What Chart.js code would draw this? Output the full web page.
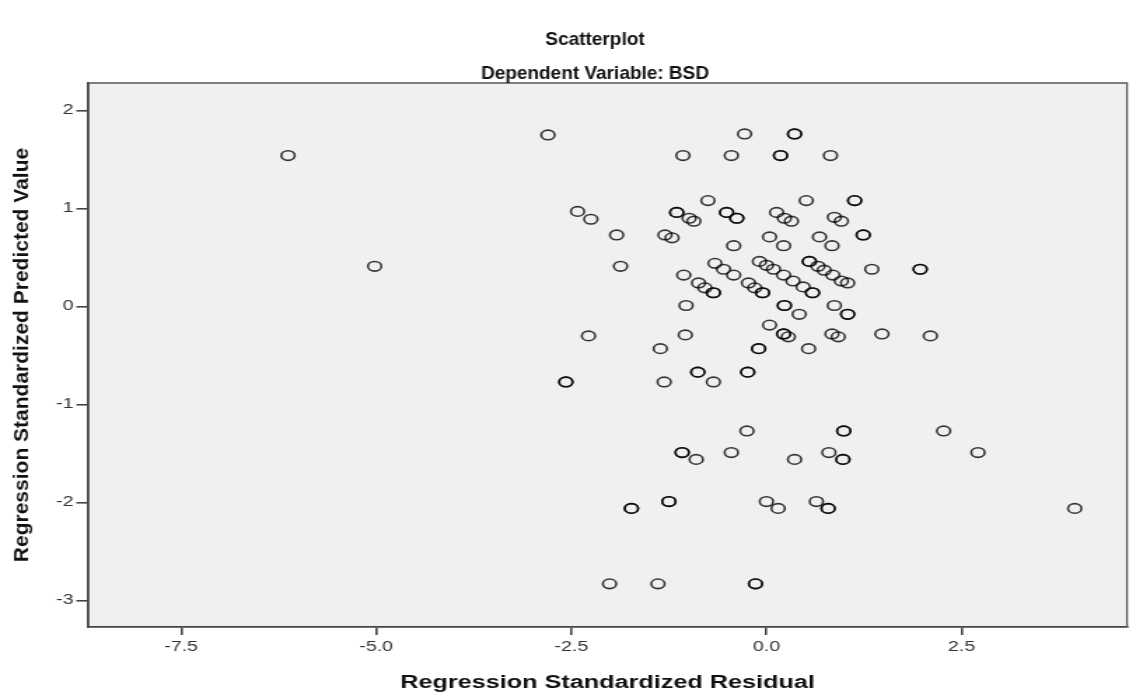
<!DOCTYPE html>
<html>
<head>
<meta charset="utf-8">
<script src="https://cdn.jsdelivr.net/npm/chart.js@4.4.1/dist/chart.umd.min.js"></script>
<style>
  html, body { margin: 0; padding: 0; background: #fff; overflow: hidden; }
  #wrap { width: 811px; height: 696px; transform: scaleX(1.4007); transform-origin: 0 0; }
</style>
</head>
<body>
<div id="wrap"><canvas id="scatter" width="811" height="696"></canvas></div>
<script>
// regression standardized residual (x) / predicted value (y)
const residual = [
  -6.13, -2.80, -0.28, 0.36, 0.36, -1.07, -0.45, 0.18, 0.18, 0.82,
  -0.75, 0.51, 1.13, 1.13,
  -2.42, -2.25, -1.15, -1.15, -0.99, -0.93, -0.51, -0.51, -0.38, -0.38,
  0.13, 0.23, 0.32, 0.87, 0.96,
  -1.92, -1.30, -1.21, -0.42, 0.04, 0.22, 0.68, 0.84, 1.24, 1.24,
  -5.02, -1.87, -0.66, -0.55, -0.42, -1.06, -0.87, -0.79, -0.68, -0.68,
  -0.23, -0.15, -0.05, -0.05,
  -0.09, 0.00, 0.09, 0.22, 0.34, 0.47, 0.59, 0.59,
  0.55, 0.55, 0.66, 0.74, 0.85, 0.96, 1.04, 1.35, 1.97, 1.97,
  -1.03, 0.23, 0.23, 0.42, 0.87, 1.04, 1.04, 0.04,
  -2.28, -1.04, 0.22, 0.22, 0.28, 0.84, 0.92, 1.48, 2.10,
  -1.36, -0.10, -0.10, 0.54,
  -2.57, -2.57, -1.31, -0.88, -0.88, -0.68, -0.24, -0.24,
  -0.25, 0.99, 0.99, 2.27,
  -1.08, -1.08, -0.90, -0.45, 0.36, 0.80, 0.98, 0.98, 2.71,
  -1.25, -1.25, -1.73, -1.73, 0.00, 0.15, 0.64, 0.79, 0.79, 3.95,
  -2.01, -1.39, -0.14, -0.14
]
const predicted = [
  1.54, 1.75, 1.76, 1.76, 1.76, 1.54, 1.54, 1.54, 1.54, 1.54,
  1.08, 1.08, 1.08, 1.08,
  0.97, 0.89, 0.96, 0.96, 0.90, 0.87, 0.96, 0.96, 0.90, 0.90,
  0.96, 0.90, 0.87, 0.91, 0.87,
  0.73, 0.73, 0.70, 0.62, 0.71, 0.62, 0.71, 0.62, 0.73, 0.73,
  0.41, 0.41, 0.44, 0.38, 0.32, 0.32, 0.24, 0.19, 0.14, 0.14,
  0.24, 0.19, 0.14, 0.14,
  0.46, 0.42, 0.38, 0.32, 0.26, 0.20, 0.14, 0.14,
  0.46, 0.46, 0.41, 0.37, 0.32, 0.26, 0.24, 0.38, 0.38, 0.38,
  0.01, 0.01, 0.01, -0.08, 0.01, -0.08, -0.08, -0.19,
  -0.30, -0.29, -0.28, -0.28, -0.31, -0.28, -0.31, -0.28, -0.30,
  -0.43, -0.43, -0.43, -0.43,
  -0.77, -0.77, -0.77, -0.67, -0.67, -0.77, -0.67, -0.67,
  -1.27, -1.27, -1.27, -1.27,
  -1.49, -1.49, -1.56, -1.49, -1.56, -1.49, -1.56, -1.56, -1.49,
  -1.99, -1.99, -2.06, -2.06, -1.99, -2.06, -1.99, -2.06, -2.06, -2.06,
  -2.83, -2.83, -2.83, -2.83
]
const xTicks = [-7.5, -5.0, -2.5, 0.0, 2.5]
const yTicks = [-3, -2, -1, 0, 1, 2]
const titleLines = ['Scatterplot', 'Dependent Variable: BSD']
const yTitle = 'Regression Standardized Predicted Value'
const xTitle = 'Regression Standardized Residual'

const stretch = 1.4007
const points = residual.map((x, i) => ({ x, y: predicted[i] }))

// draws text at (x, y) in page pixels without the horizontal stretch
function plainText(ctx, text, x, y, rotate) {
  ctx.save()
  ctx.translate(x / stretch, y)
  ctx.scale(1 / stretch, 1)
  if (rotate) ctx.rotate(-Math.PI / 2)
  ctx.fillText(text, 0, 0)
  ctx.restore()
}

const plotFrame = {
  id: 'plotFrame',
  beforeDraw(chart) {
    const { ctx, chartArea: a } = chart
    ctx.save()
    ctx.fillStyle = '#f0f0f0'
    ctx.fillRect(a.left, a.top, a.right - a.left, a.bottom - a.top)
    ctx.restore()
  },
  afterDraw(chart) {
    const { ctx, chartArea: a } = chart
    ctx.save()
    ctx.strokeStyle = '#555'
    ctx.lineWidth = 1.3
    ctx.beginPath()
    ctx.moveTo(a.left, a.top)
    ctx.lineTo(a.right, a.top)
    ctx.lineTo(a.right, a.bottom)
    ctx.stroke()

    ctx.fillStyle = '#111'
    ctx.textAlign = 'center'
    ctx.textBaseline = 'middle'
    ctx.font = 'bold 19px "Liberation Sans", Arial, sans-serif'
    plainText(ctx, titleLines[0], 595, 40)
    plainText(ctx, titleLines[1], 595, 74)
    ctx.font = 'bold 21px "Liberation Sans", Arial, sans-serif'
    plainText(ctx, yTitle, 22, (a.top + a.bottom) / 2, true)
    ctx.restore()
  }
}

new Chart(document.getElementById('scatter'), {
  type: 'scatter',
  data: {
    datasets: [{
      data: points,
      pointStyle: 'circle',
      pointRadius: 4.8,
      pointHoverRadius: 4.8,
      pointBorderWidth: 1.6,
      pointBorderColor: 'rgba(0,0,0,0.78)',
      pointBackgroundColor: 'rgba(0,0,0,0)'
    }]
  },
  plugins: [plotFrame],
  options: {
    responsive: false,
    animation: false,
    events: [],
    layout: { padding: { top: 83, right: 2, left: 0, bottom: 0 } },
    plugins: {
      legend: { display: false },
      tooltip: { enabled: false },
      title: { display: false }
    },
    scales: {
      x: {
        type: 'linear',
        min: -8.69,
        max: 4.62,
        afterBuildTicks: (axis) => { axis.ticks = xTicks.map(v => ({ value: v })) },
        afterFit: (axis) => { axis.height = 69 },
        ticks: {
          color: '#333',
          font: { family: '"Liberation Sans", Arial, sans-serif', size: 14 },
          padding: 4,
          maxRotation: 0,
          callback: (v) => Number(v).toFixed(1)
        },
        grid: { drawOnChartArea: false, drawTicks: true, tickLength: 8, color: '#444', lineWidth: 1.6 },
        border: { display: true, color: '#444', width: 1.8 },
        title: {
          display: true,
          text: xTitle,
          color: '#111',
          font: { family: '"Liberation Sans", Arial, sans-serif', size: 18, weight: 'bold' },
          padding: { top: 0, bottom: 2 }
        }
      },
      y: {
        type: 'linear',
        min: -3.27,
        max: 2.28,
        afterBuildTicks: (axis) => { axis.ticks = yTicks.map(v => ({ value: v })) },
        afterFit: (axis) => { axis.width = 63 },
        ticks: {
          color: '#333',
          font: { family: '"Liberation Sans", Arial, sans-serif', size: 14 },
          padding: 2,
          callback: (v) => String(v)
        },
        grid: { drawOnChartArea: false, drawTicks: true, tickLength: 8.5, color: '#444', lineWidth: 1.6 },
        border: { display: true, color: '#444', width: 1.8 }
      }
    }
  }
})
</script>
</body>
</html>
